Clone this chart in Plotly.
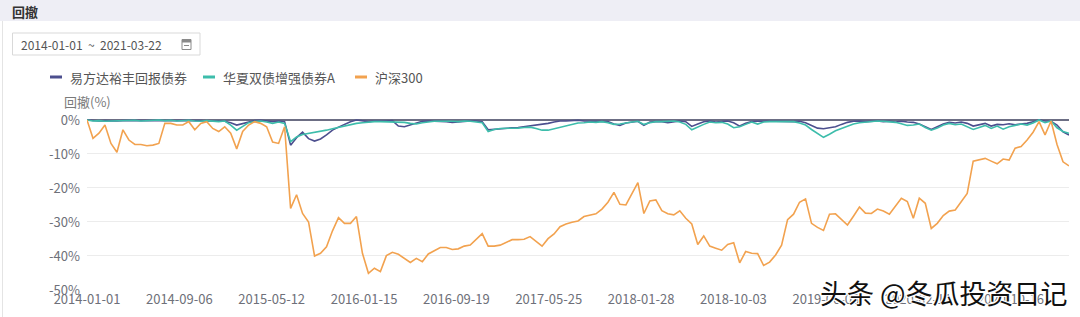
import pandas as pd
import plotly.graph_objects as go

# ---------------- data ----------------
start_date = "2014-01-01"
end_date = "2021-03-22"
n_points = 165  # roughly one reading every ~16 days
dates = pd.date_range(start_date, end_date, periods=n_points)

series_names = ["易方达裕丰回报债券", "华夏双债增强债券A", "沪深300"]

yfd = [0, -0.2, -0.3, -0.2, -0.3, -0.3, -0.2, -0.2, 0, -0.1, -0.2, -0.2, -0.1, 0, 0,
       -0.1, -0.2, -0.1, 0, -0.2, -0.3, -0.2, -0.3, -0.4, -0.8,
       -1.5, -1.0, -0.5, -0.2, -0.1, -0.3, -0.5, -0.3, -0.5,
       -7.4, -5.2, -3.6, -5.5, -6.2, -5.6, -4.4, -3.0, -2.1, -1.3, -0.5, 0,
       -0.3, -0.5, -0.3, -0.4, -0.3, -0.2, -1.8, -2.0, -1.5, -0.8,
       -0.4, -0.3, -0.3, -0.4, -0.5, -0.7, -0.5, -0.3, -0.3, -0.3, -0.5,
       -2.9, -2.7, -2.5, -2.4, -2.3, -2.2, -2.0, -1.8, -1.6, -1.3, -1.0, -0.6, -0.3, -0.3, -0.1, -0.1,
       -0.3, -0.4, -0.3, -0.4, -0.5, -1.2, -1.6, -0.9, -0.6, -0.4, -1.6, -0.6, -0.5, -0.5,
       -0.8, -0.5, -0.3, -0.5, -1.9, -1.2, -0.5, -0.3, -0.6, -0.5, -0.3, -0.8, -1.8, -1.0,
       -0.5, -0.4, -0.5, -0.4, -0.4, -0.5, -0.4, -0.5, -0.4, -0.8, -1.6, -2.4, -2.6, -2.4,
       -2.0, -1.3, -0.7, -0.4, -0.3, -0.5, -0.4, -0.3, -0.5, -0.4, -0.6, -0.4, -0.6,
       -0.7, -1.2, -1.9, -2.8, -2.0, -1.2, -0.7, -0.9, -0.6, -1.0, -1.8, -1.4, -1.0, -1.8,
       -1.3, -1.4, -1.1, -1.4, -1.2, -1.0, -0.5, 0, -0.3, -0.4, -1.5, -3.5, -4.4]

hxsz = [0, -0.3, -0.2, -0.4, -0.3, -0.2, -0.3, -0.2, -0.1, -0.3, -0.2, -0.2, 0, -0.2, -0.1,
        -0.3, -0.2, -0.1, -0.3, -0.4, -0.2, -0.3, -0.5, -0.3, -1.5,
        -3.0, -2.0, -0.8, -0.5, -0.3, -0.6, -1.0, -0.6, -1.0,
        -6.4, -5.0, -4.3, -4.0, -3.8, -3.5, -3.0, -2.6, -2.2, -1.7, -1.5, -1.0,
        -0.8, -0.6, -0.5, -0.5, -0.5, -0.5, -0.6, -0.7, -1.0, -1.2,
        -0.8, -0.5, -0.4, -0.4, -0.3, -0.4, -0.5, -0.3, -0.4, -0.5, -0.8,
        -3.4, -2.8, -2.5, -2.5, -2.5, -2.4, -2.2, -2.1, -2.5, -3.0, -3.0, -2.6, -2.1, -1.6, -1.2, -0.9,
        -0.8, -0.6, -0.7, -0.5, -0.8, -1.3, -1.2, -0.8, -0.6, -0.4, -1.3, -0.8, -0.5, -0.5,
        -0.4, -0.3, -0.6, -1.3, -2.9, -2.0, -1.3, -0.6, -0.8, -0.7, -1.2, -2.3, -2.0, -1.3,
        -0.6, -1.2, -0.6, -0.5, -0.5, -0.5, -0.6, -0.5, -0.9, -1.5, -2.8, -4.0, -5.1, -4.2,
        -3.2, -2.5, -1.8, -1.2, -0.8, -0.6, -0.5, -0.3, -0.4, -0.5, -0.7, -1.1, -1.6,
        -1.5, -1.2, -2.2, -3.0, -2.4, -1.5, -1.0, -1.4, -1.2, -1.9, -2.8, -2.2, -1.6, -2.5,
        -1.8, -2.7, -2.0, -1.6, -1.2, -1.5, -0.9, 0, -0.8, -0.3, -2.3, -3.4, -3.9]

hs300 = [0, -5.4, -3.9, -1.5, -6.9, -9.5, -2.9, -5.9, -7.2, -7.2, -7.6, -7.4, -6.9, -1.0, -1.0,
         -1.5, -1.5, -0.5, -2.9, -1.0, -0.5, -2.5, -3.4, -2.0, -3.9,
         -8.5, -3.4, -1.5, -0.5, -1.0, -2.0, -6.5, -6.9, -2.0,
         -26.0, -22.0, -27.5, -30.0, -40.0, -39.2, -37.3, -32.6, -28.7, -30.4, -30.4, -28.4,
         -39.2, -45.1, -43.6, -44.6, -39.9, -38.9, -39.5, -40.7, -41.9, -40.7,
         -41.7, -39.4, -38.5, -37.5, -37.5, -38.1, -37.9, -37.1, -36.8, -35.0, -33.4,
         -37.1, -37.1, -36.8, -36.0, -35.2, -35.2, -35.1, -34.3, -35.6, -37.1, -34.9, -33.5,
         -31.4, -30.6, -30.1, -29.7,
         -28.4, -28.1, -27.6, -26.2, -24.2, -21.3, -24.8, -25.0, -21.9, -18.4, -27.5, -23.8,
         -23.5, -26.7, -27.6, -27.9, -26.7, -28.9, -30.6, -36.6, -34.1, -37.1, -37.7, -38.3,
         -36.6, -36.1, -42.0, -38.7,
         -39.2, -39.3, -42.8, -41.8, -39.7, -36.8, -29.3, -27.7, -24.2, -23.2, -30.4, -31.6,
         -32.5, -27.7, -27.6, -29.4, -30.9, -28.3, -25.6, -27.4, -27.5, -26.2, -26.8, -27.7,
         -25.3, -23.0, -24.0,
         -28.9, -23.0, -24.5, -31.9, -30.4, -28.1, -26.8, -26.5, -24.2, -21.6, -12.1, -11.6,
         -11.3, -12.1, -12.9, -11.5, -11.8, -8.3, -7.8, -5.9, -3.6, -0.5, -4.4, -0.3, -7.2,
         -12.3, -13.5]

tick_labels = ["2014-01-01", "2014-09-06", "2015-05-12", "2016-01-15", "2016-09-19",
               "2017-05-25", "2018-01-28", "2018-10-03", "2019-06-08", "2020-02-11",
               "2020-10-16"]
y_ticks = [0, -10, -20, -30, -40, -50]
y_ticktext = ["0%", "-10%", "-20%", "-30%", "-40%", "-50%"]

# ---------------- styling / layout ----------------
colors = ["#4c4f8e", "#3dbdab", "#f2a24f"]
FONT = "Noto Sans CJK SC"
W, H = 1080, 317
PL, PR, PT, PB = 87, 1069, 118.6, 290


def fx(x):
    return x / W


def fy(y):
    return 1 - y / H


fig = go.Figure()
for name, vals, col in zip(series_names, [yfd, hxsz, hs300], colors):
    fig.add_trace(go.Scatter(x=dates, y=vals, mode="lines", name=name,
                             line=dict(color=col, width=1.6), showlegend=False,
                             hoverinfo="skip"))

shapes = [
    dict(type="rect", xref="paper", yref="paper", x0=0, x1=1, y0=fy(21), y1=1,
         fillcolor="#eeeef5", line=dict(width=0), layer="below"),
    dict(type="line", xref="paper", yref="paper", x0=fx(2.5), x1=fx(2.5), y0=0, y1=fy(21),
         line=dict(color="#e4e4e4", width=1), layer="below"),
    dict(type="rect", xref="paper", yref="paper", x0=fx(12.5), x1=fx(200), y0=fy(55), y1=fy(33),
         fillcolor="rgba(0,0,0,0)", line=dict(color="#d9d9d9", width=1)),
    # calendar icon
    dict(type="rect", xref="paper", yref="paper", x0=fx(182), x1=fx(191), y0=fy(49.5), y1=fy(39.5),
         fillcolor="rgba(0,0,0,0)", line=dict(color="#8a8a8a", width=1)),
    dict(type="rect", xref="paper", yref="paper", x0=fx(182), x1=fx(191), y0=fy(42.5), y1=fy(39.5),
         fillcolor="#8a8a8a", line=dict(width=0)),
    dict(type="line", xref="paper", yref="paper", x0=fx(184), x1=fx(189), y0=fy(45.5), y1=fy(45.5),
         line=dict(color="#8a8a8a", width=1)),
]

annotations = [
    dict(text="<b>回撤</b>", x=fx(10), y=fy(11), xref="paper", yref="paper",
         xanchor="left", yanchor="middle", showarrow=False,
         font=dict(family=FONT, size=13, color="#333333")),
    dict(text="2014-01-01  ~  2021-03-22", x=fx(19), y=fy(44), xref="paper", yref="paper",
         xanchor="left", yanchor="middle", showarrow=False,
         font=dict(family=FONT, size=12, color="#555555")),
    dict(text="回撤(%)", x=fx(87), y=fy(101), xref="paper", yref="paper",
         xanchor="center", yanchor="middle", showarrow=False,
         font=dict(family=FONT, size=13, color="#7a7a7a")),
    dict(text="头条 @冬瓜投资日记", x=fx(1070), y=fy(292), xref="paper", yref="paper",
         xanchor="right", yanchor="middle", showarrow=False,
         font=dict(family=FONT, size=27, color="#111111",
                   shadow="-1px -1px 0 #fff, 1px -1px 0 #fff, -1px 1px 0 #fff, 1px 1px 0 #fff")),
]

legend_x = [50, 203, 355]
for name, col, lx in zip(series_names, colors, legend_x):
    shapes.append(dict(type="line", xref="paper", yref="paper", x0=fx(lx), x1=fx(lx + 12),
                       y0=fy(77), y1=fy(77), line=dict(color=col, width=3)))
    annotations.append(dict(text=name, x=fx(lx + 18), y=fy(77), xref="paper", yref="paper",
                            xanchor="left", yanchor="middle", showarrow=False,
                            font=dict(family=FONT, size=13, color="#555555")))

fig.update_layout(
    width=W, height=H,
    autosize=False,
    margin=dict(l=0, r=0, t=0, b=0, pad=0, autoexpand=False),
    paper_bgcolor="white", plot_bgcolor="white",
    font=dict(family=FONT, size=13, color="#6e7079"),
    showlegend=False,
    shapes=shapes,
    annotations=annotations,
    xaxis=dict(type="date", domain=[fx(PL), fx(PR)], range=[start_date, end_date],
               tickvals=tick_labels, ticktext=tick_labels, ticks="",
               showgrid=False, showline=False, zeroline=False, automargin=False,
               tickfont=dict(family=FONT, size=13, color="#6e7079")),
    yaxis=dict(domain=[fy(PB), fy(PT)], range=[-50, 0.4],
               tickvals=y_ticks, ticktext=y_ticktext, ticks="",
               showgrid=True, gridcolor="#ececec", gridwidth=1,
               zeroline=True, zerolinecolor="#6c6e84", zerolinewidth=1.5,
               showline=False, ticklabelstandoff=6, automargin=False,
               tickfont=dict(family=FONT, size=13, color="#6e7079")),
)

fig.write_html("out.html")
